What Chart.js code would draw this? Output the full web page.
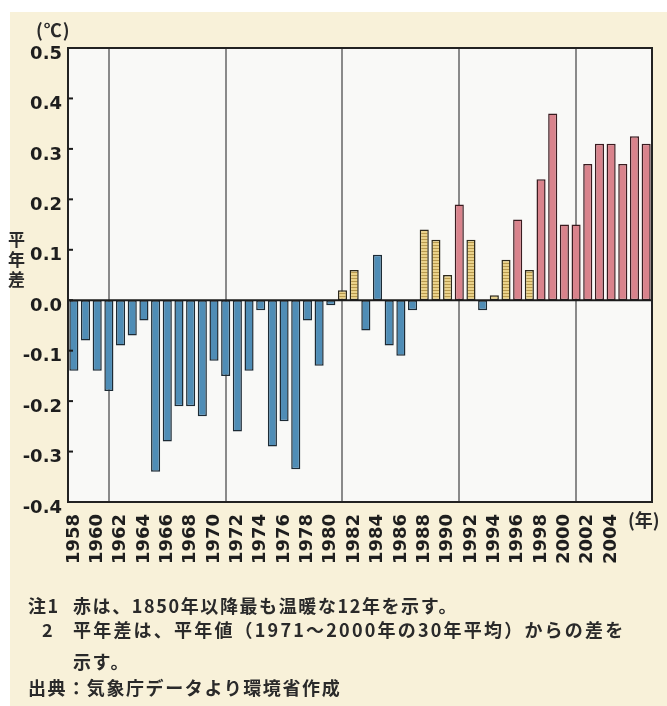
<!DOCTYPE html>
<html>
<head>
<meta charset="utf-8">
<script src="https://cdn.jsdelivr.net/npm/chart.js@4.4.1/dist/chart.umd.min.js"></script>
<style>
  html, body { margin: 0; padding: 0; background: #ffffff; }
  #wrap { position: relative; width: 667px; height: 706px; overflow: hidden; }
  #cream { position: absolute; left: 10px; top: 12px; right: 0; bottom: 0; background: #f8f1d9; }
  #c { position: absolute; left: 0; top: 0; }
  .t { position: absolute; font-family: "Noto Sans CJK JP", "Noto Sans", sans-serif; font-weight: 700; color: #2a2a2a; white-space: nowrap; line-height: 1; }
  .note { font-size: 18px; letter-spacing: 1.6px; }
</style>
</head>
<body>
<div id="wrap">
  <div id="cream"></div>
  <canvas id="c" width="667" height="706"></canvas>
  <div class="t" style="left:36px; top:20px; font-size:18px; letter-spacing:1px;">(℃)</div>
  <div class="t" style="left:8px; top:231px; font-size:17px; writing-mode: vertical-rl; letter-spacing:3px;">平年差</div>
  <div class="t" style="left:628px; top:510px; font-size:18px;">(年)</div>
  <div class="t note" style="left:28px; top:596px;">注1</div>
  <div class="t note" style="left:73px; top:596px;">赤は、1850年以降最も温暖な12年を示す。</div>
  <div class="t note" style="left:42px; top:620px;">2</div>
  <div class="t note" style="left:73px; top:620px; letter-spacing:2.2px;">平年差は、平年値（1971～2000年の30年平均）からの差を</div>
  <div class="t note" style="left:73px; top:652px;">示す。</div>
  <div class="t note" style="left:28px; top:678px;">出典：気象庁データより環境省作成</div>
</div>
<script>
// ---- data ----
const years = [1958,1959,1960,1961,1962,1963,1964,1965,1966,1967,
               1968,1969,1970,1971,1972,1973,1974,1975,1976,1977,
               1978,1979,1980,1981,1982,1983,1984,1985,1986,1987,
               1988,1989,1990,1991,1992,1993,1994,1995,1996,1997,
               1998,1999,2000,2001,2002,2003,2004,2005,2006,2007];
const anomalies = [-0.14,-0.08,-0.14,-0.18,-0.09,-0.07,-0.04,-0.34,-0.28,-0.21,
                   -0.21,-0.23,-0.12,-0.15,-0.26,-0.14,-0.02,-0.29,-0.24,-0.335,
                   -0.04,-0.13,-0.01,0.02,0.06,-0.06,0.09,-0.09,-0.11,-0.02,
                   0.14,0.12,0.05,0.19,0.12,-0.02,0.01,0.08,0.16,0.06,
                   0.24,0.37,0.15,0.15,0.27,0.31,0.31,0.27,0.325,0.31];
// group: "c" = cool (blue), "w" = warm (yellow), "h" = 12 warmest years since 1850 (red)
const groups = ["c","c","c","c","c","c","c","c","c","c",
                "c","c","c","c","c","c","c","c","c","c",
                "c","c","c","w","w","c","c","c","c","c",
                "w","w","w","h","w","c","w","w","h","w",
                "h","h","h","h","h","h","h","h","h","h"];
const xTickLabels = ["1958","","1960","","1962","","1964","","1966","",
                     "1968","","1970","","1972","","1974","","1976","",
                     "1978","","1980","","1982","","1984","","1986","",
                     "1988","","1990","","1992","","1994","","1996","",
                     "1998","","2000","","2002","","2004","","",""];
const yTicks = [-0.4,-0.3,-0.2,-0.1,0.0,0.1,0.2,0.3,0.4,0.5];

// ---- styles ----
function hatch() {
  const p = document.createElement('canvas');
  p.width = 4; p.height = 3;
  const g = p.getContext('2d');
  g.fillStyle = '#ead28a'; g.fillRect(0,0,4,3);
  g.fillStyle = '#b89a4e'; g.fillRect(0,2,4,1);
  return g.createPattern(p, 'repeat');
}
const yellowPat = hatch();
const fillFor = { c: '#4f8db6', w: yellowPat, h: '#d9838c' };
const edgeFor = { c: '#1d2b35', w: '#2e2a1c', h: '#3a1c20' };

const framePlugin = {
  id: 'frame',
  beforeDraw(chart) {
    const { ctx, chartArea: a } = chart;
    ctx.save();
    ctx.fillStyle = '#f9f9f7';
    ctx.fillRect(a.left, a.top, a.right - a.left, a.bottom - a.top);
    ctx.restore();
  },
  afterDatasetsDraw(chart) {
    const { ctx, chartArea: a, scales } = chart;
    const y = scales.y;
    ctx.save();
    const y0 = y.getPixelForValue(0);
    ctx.strokeStyle = '#1b1b1b';
    ctx.lineWidth = 2;
    ctx.beginPath(); ctx.moveTo(a.left, y0); ctx.lineTo(a.right, y0); ctx.stroke();
    yTicks.forEach(v => {
      const py = y.getPixelForValue(v);
      ctx.beginPath(); ctx.moveTo(a.left, py); ctx.lineTo(a.left + 5, py); ctx.stroke();
    });
    ctx.strokeStyle = '#222';
    ctx.strokeRect(a.left, a.top, a.right - a.left, a.bottom - a.top);
    ctx.restore();
  }
};

new Chart(document.getElementById('c'), {
  type: 'bar',
  data: {
    labels: years,
    datasets: [{
      data: anomalies,
      backgroundColor: groups.map(g => fillFor[g]),
      borderColor: groups.map(g => edgeFor[g]),
      borderWidth: 1.5,
      borderSkipped: false,
      barPercentage: 0.78,
      categoryPercentage: 1.0
    }]
  },
  options: {
    responsive: false,
    animation: false,
    devicePixelRatio: 1,
    layout: { padding: { top: 48, right: 15, left: 0, bottom: 0 } },
    plugins: { legend: { display: false }, tooltip: { enabled: false } },
    scales: {
      x: {
        offset: true,
        afterFit(s) { s.height = 204; s.paddingLeft = 0; s.paddingRight = 0; },
        border: { display: false },
        grid: {
          offset: false,
          drawTicks: false,
          lineWidth: 2,
          color: ctx => (years[ctx.index] % 10 === 1 ? '#8a8a8a' : 'rgba(0,0,0,0)')
        },
        ticks: {
          autoSkip: false,
          minRotation: 90,
          maxRotation: 90,
          padding: 12,
          color: '#1e1e1e',
          font: { family: 'DejaVu Sans', weight: 'bold', size: 18 },
          callback: (v, i) => xTickLabels[i]
        }
      },
      y: {
        min: -0.4,
        max: 0.5,
        afterFit(s) { s.width = 68; s.paddingTop = 0; s.paddingBottom = 0; },
        border: { display: false },
        grid: { display: false, drawTicks: false },
        afterBuildTicks(s) { s.ticks = yTicks.map(v => ({ value: v })); },
        ticks: {
          padding: 6,
          labelOffset: 6,
          color: '#1e1e1e',
          font: { family: 'DejaVu Sans', weight: 'bold', size: 18 },
          callback: v => v.toFixed(1)
        }
      }
    }
  },
  plugins: [framePlugin]
});
</script>
</body>
</html>
